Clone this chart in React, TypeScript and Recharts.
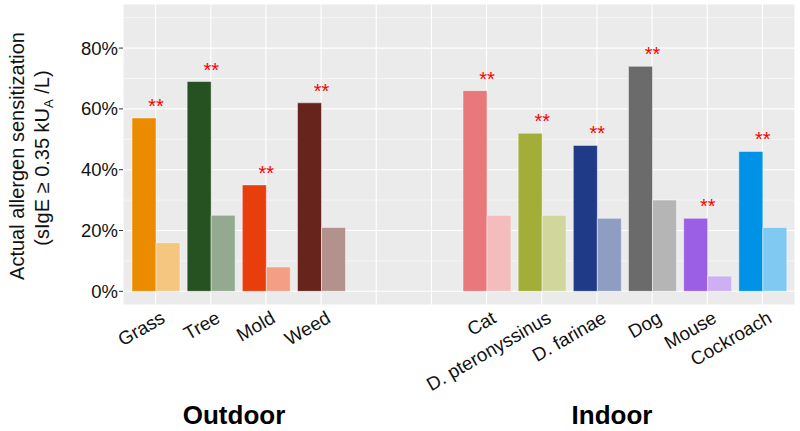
import React from 'react';
import { BarChart, Bar, XAxis, YAxis, CartesianGrid, Cell, LabelList } from 'recharts';

const categories = ['Grass', 'Tree', 'Mold', 'Weed', ' ', '  ', 'Cat', 'D. pteronyssinus', 'D. farinae', 'Dog', 'Mouse', 'Cockroach'];
const actualValues = [57, 69, 35, 62, null, null, 66, 52, 48, 74, 24, 46];
const comparisonValues = [16, 25, 8, 21, null, null, 25, 25, 24, 30, 5, 21];
const significance = ['**', '**', '**', '**', '', '', '**', '**', '**', '**', '**', '**'];
const barColors = ['#EB8C00', '#265221', '#E83E0B', '#66241C', '#000000', '#000000', '#E9787A', '#A2AE38', '#1F3A87', '#6B6B6B', '#9B5FE6', '#0092E6'];
const yTicks = [0, 20, 40, 60, 80];
const yMinorTicks = [10, 30, 50, 70, 90];
const groupLabels = ['Outdoor', 'Indoor'];

const FONT = '"Liberation Sans", Arial, Helvetica, sans-serif';

const lighten = (hex: string) => {
  const n = parseInt(hex.slice(1), 16);
  const r = (n >> 16) & 255, g = (n >> 8) & 255, b = n & 255;
  const m = (c: number) => Math.round((c + 255) / 2).toString(16).padStart(2, '0');
  return '#' + m(r) + m(g) + m(b);
};

const data = categories.map((name, i) => ({
  name,
  actual: actualValues[i],
  comparison: comparisonValues[i],
  sig: significance[i],
}));

const XTick = (props: any) => {
  const { x, y, payload } = props;
  const ax = x + 4;
  const ay = y + 5;
  return (
    <text
      x={ax}
      y={ay}
      dy="0.71em"
      transform={`rotate(-30 ${ax} ${ay})`}
      textAnchor="end"
      fontSize={18.8}
      fontFamily={FONT}
      fill="#111"
    >
      {payload.value}
    </text>
  );
};

const StarLabel = (props: any) => {
  const { x, y, width, value } = props;
  if (!value) return null;
  return (
    <text
      x={x + width}
      y={y - 5}
      textAnchor="middle"
      fontSize={20}
      fontFamily={FONT}
      fill="#FF0000"
    >
      {value}
    </text>
  );
};

export default function App() {
  return (
    <div style={{ position: 'absolute', left: 0, top: 0, width: 800, height: 431 }}>
      <BarChart
        width={800}
        height={431}
        data={data}
        margin={{ top: 4, right: 5, left: 0, bottom: 0 }}
        barCategoryGap={4}
        barGap={0}
      >
        <CartesianGrid
          fill="#EBEBEB"
          stroke="#FFFFFF"
          strokeWidth={0.55}
          vertical={false}
          horizontalValues={yMinorTicks}
        />
        <CartesianGrid stroke="#FFFFFF" strokeWidth={1.1} />
        <XAxis
          dataKey="name"
          type="category"
          height={126}
          interval={0}
          tickLine={false}
          axisLine={false}
          tickSize={0}
          tickMargin={0}
          padding={{ left: 5, right: 5 }}
          tick={<XTick />}
        />
        <YAxis
          width={123}
          domain={[-4.5, 94.5]}
          ticks={yTicks}
          allowDataOverflow
          axisLine={false}
          tickSize={4}
          tickMargin={1}
          tickLine={{ stroke: '#333333', strokeWidth: 1 }}
          tickFormatter={(v: number) => `${v}%`}
          tick={{ fontSize: 18.5, fontFamily: FONT, fill: '#111' }}
        />
        <Bar dataKey="actual" isAnimationActive={false} stroke="#FFFFFF" strokeOpacity={0.45} strokeWidth={1}>
          {data.map((_, i) => (
            <Cell key={`a${i}`} fill={barColors[i]} />
          ))}
          <LabelList dataKey="sig" content={<StarLabel />} />
        </Bar>
        <Bar dataKey="comparison" isAnimationActive={false} stroke="#FFFFFF" strokeOpacity={0.45} strokeWidth={1}>
          {data.map((_, i) => (
            <Cell key={`c${i}`} fill={lighten(barColors[i])} />
          ))}
        </Bar>
      </BarChart>
      <svg
        width={800}
        height={431}
        style={{ position: 'absolute', left: 0, top: 0, pointerEvents: 'none' }}
      >
        <text
          transform="translate(24 156) rotate(-90)"
          textAnchor="middle"
          fontSize={20}
          fontFamily={FONT}
          fill="#111"
        >
          Actual allergen sensitization
        </text>
        <text
          transform="translate(48.5 158) rotate(-90)"
          textAnchor="middle"
          fontSize={20}
          fontFamily={FONT}
          fill="#111"
        >
          (sIgE ≥ 0.35 kU
          <tspan fontSize={13} dy={4}>A</tspan>
          <tspan dy={-4}> /L)</tspan>
        </text>
        <text
          x={234}
          y={424}
          textAnchor="middle"
          fontSize={26}
          fontWeight="bold"
          fontFamily={FONT}
          fill="#000"
        >
          {groupLabels[0]}
        </text>
        <text
          x={612}
          y={424}
          textAnchor="middle"
          fontSize={26}
          fontWeight="bold"
          fontFamily={FONT}
          fill="#000"
        >
          {groupLabels[1]}
        </text>
      </svg>
    </div>
  );
}
